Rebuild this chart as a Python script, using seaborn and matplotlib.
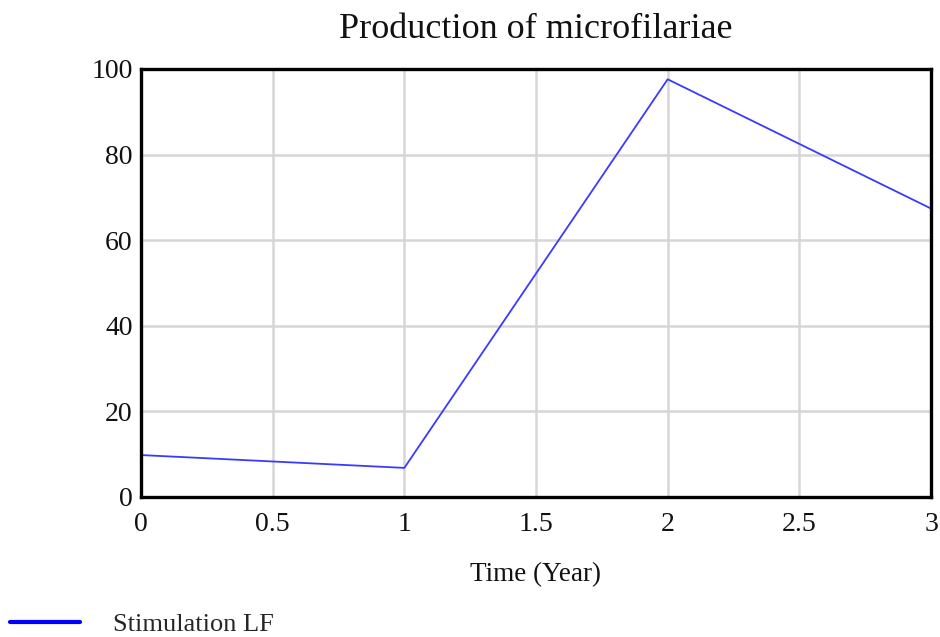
import matplotlib
matplotlib.use("Agg")
import matplotlib.pyplot as plt
from matplotlib.lines import Line2D
import seaborn as sns
import pandas as pd

# Simulated microfilariae production per year
years = [0, 1, 2, 3]
production = [9.8, 6.8, 97.6, 67.4]
series_name = "Stimulation LF"

x_ticks = [0, 0.5, 1, 1.5, 2, 2.5, 3]
x_tick_labels = ["0", "0.5", "1", "1.5", "2", "2.5", "3"]
y_ticks = [0, 20, 40, 60, 80, 100]

df = pd.DataFrame({"Time": years, "Value": production})

sns.set_theme(style="white")
plt.rcParams["font.family"] = ["Liberation Serif", "DejaVu Serif"]

fig = plt.figure(figsize=(9.4, 6.37), dpi=100)
ax = fig.add_axes([141 / 940, 1 - 497 / 637, (931 - 141) / 940, (497 - 69) / 637])

sns.lineplot(data=df, x="Time", y="Value", ax=ax, color="#3a3aff",
             linewidth=1.3, legend=False)

ax.set_xlim(0, 3)
ax.set_ylim(0, 100)
ax.set_xticks(x_ticks)
ax.set_xticklabels(x_tick_labels)
ax.set_yticks(y_ticks)
ax.tick_params(axis="both", length=0, labelsize=20, colors="#111111")
ax.tick_params(axis="x", pad=11)
ax.tick_params(axis="y", pad=6)
ax.grid(True, color="#d6d6d6", linewidth=1.8)
ax.set_axisbelow(True)
for s in ax.spines.values():
    s.set_color("black")
    s.set_linewidth(2.4)

ax.set_xlabel("Time (Year)", fontsize=19.5, labelpad=18, color="#111111")
ax.set_ylabel("")
ax.set_title("Production of microfilariae", fontsize=26, pad=22, color="#111111")

handle = Line2D([], [], color="#0000ff", linewidth=3)
fig.legend([handle], [series_name], loc="lower left",
           bbox_to_anchor=(10 / 940, 1 / 637), frameon=False, fontsize=19,
           handlelength=2.65, handletextpad=1.25, borderaxespad=0, borderpad=0)

fig.savefig("out.png", dpi=100)
